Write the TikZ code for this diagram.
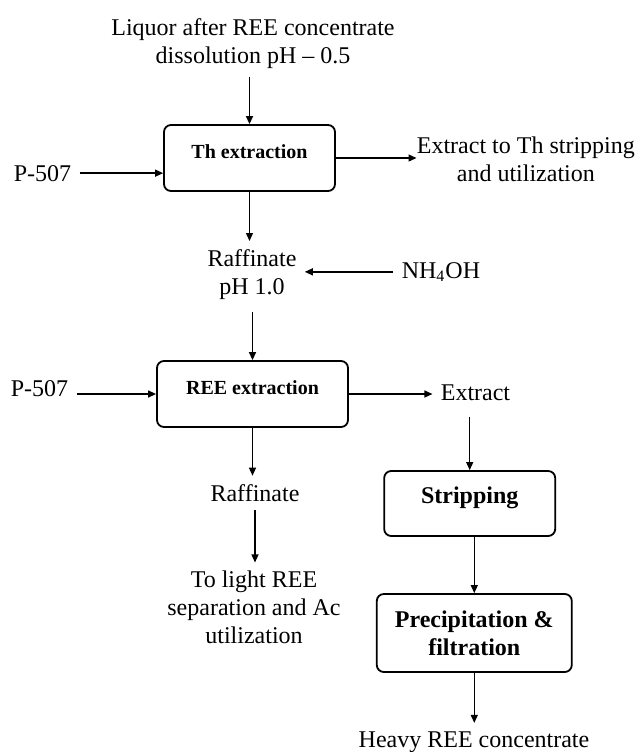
\documentclass[tikz,border=0pt]{standalone}
\usepackage{fontspec}
\setmainfont{Liberation Serif}
\usetikzlibrary{arrows.meta}

\begin{document}
\begin{tikzpicture}[x=.5pt,y=-.5pt,>={Triangle[length=4pt,width=3.5pt]},
  every node/.style={font=\fontsize{12}{14}\selectfont,inner sep=4pt,align=center},
  flow/.style={->,line width=.65pt},
  stage/.style={draw,rounded corners=3.5pt,line width=.9pt,
    font=\fontsize{10}{12}\selectfont\bfseries},
  big/.style={font=\fontsize{12}{14}\selectfont\bfseries}]
  \useasboundingbox (0,0) rectangle (634,752);
  \node (liquor) at (253,43.4) {Liquor after REE concentrate\\dissolution pH \textendash{} 0.5};
  \node[stage,minimum width=85.5pt,minimum height=33pt,text height=7pt,text depth=7pt]
    (thx) at (249.5,158) {Th extraction};
  \node[anchor=base] (p1) at (42.5,181) {P-507};
  \node[anchor=west,inner sep=0pt] (thout) at (416.5,159.4) {Extract to Th stripping\\and utilization};
  \node (raf1) at (252,274.4) {Raffinate\\pH 1.0};
  \node[anchor=base] (nh) at (441,278) {NH\textsubscript{4}OH};
  \node[stage,minimum width=95.5pt,minimum height=33pt,text height=7pt,text depth=7pt]
    (rex) at (252.5,394) {REE extraction};
  \node[anchor=base] (p2) at (39.5,396) {P-507};
  \node[anchor=base] (ext) at (475.5,400) {Extract};
  \node[anchor=base] (raf2) at (255,501) {Raffinate};
  \node (light) at (254,607.3) {To light REE\\separation and Ac\\utilization};
  \node[stage,big,minimum width=85.5pt,minimum height=32.5pt,text height=8.5pt,text depth=8.5pt]
    (strip) at (469.7,503.5) {Stripping};
  \node[stage,big,minimum width=97.5pt,minimum height=39pt]
    (precip) at (474.3,633) {Precipitation \&\\filtration};
  \node[anchor=base] (heavy) at (474,747) {Heavy REE concentrate};

  \draw[flow] (liquor.south -| thx.north) -- (thx.north);
  \draw[flow] (p1.east) -- (p1.east -| thx.west);
  \draw[flow] (thx.east) -- (thx.east -| thout.west);
  \draw[flow] (thx.south) -- (thx.south |- raf1.north);
  \draw[flow] (nh.west) -- (nh.west -| raf1.east);
  \draw[flow,shorten <=2pt] (raf1.south -| rex.north) -- (rex.north);
  \draw[flow] (p2.east |- rex.west) -- (rex.west);
  \draw[flow] (rex.east) -- (rex.east -| ext.west);
  \draw[flow] (rex.south) -- (rex.south |- raf2.north);
  \draw[flow] (raf2.south) -- (raf2.south |- light.north);
  \draw[flow,shorten <=4pt] (strip.north |- ext.south) -- (strip.north);
  \draw[flow] (precip.north |- strip.south) -- (precip.north);
  \draw[flow] (precip.south) -- (precip.south |- heavy.north);
\end{tikzpicture}
\end{document}
